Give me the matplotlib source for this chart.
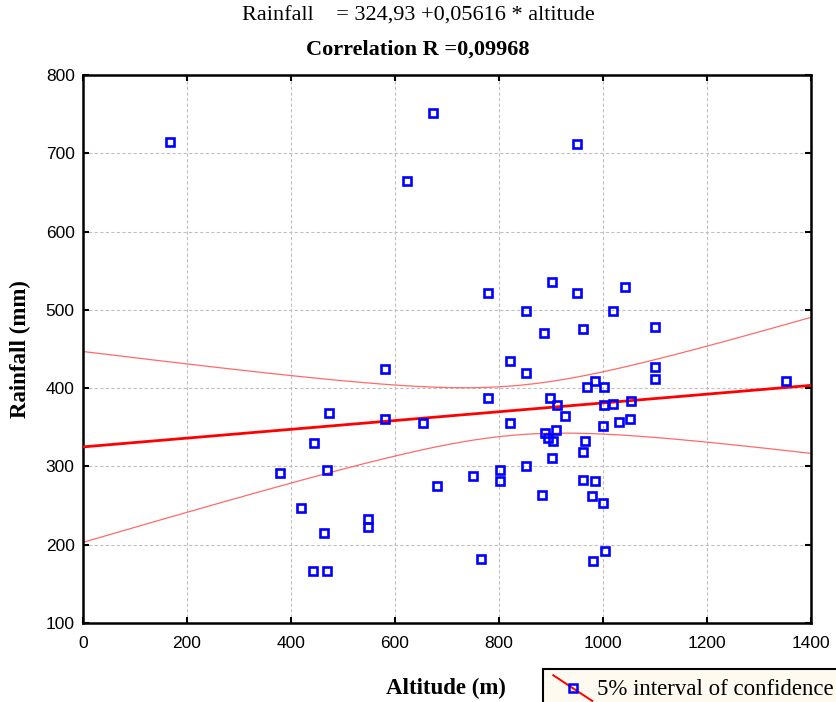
#!/usr/bin/env python3

import numpy as np
import matplotlib.pyplot as plt
from matplotlib.legend_handler import HandlerLine2D
from matplotlib.lines import Line2D

# altitude (m) and rainfall (mm) of the stations
altitude = np.array([
    168, 673, 623, 580, 474, 580, 653, 444, 470, 378, 680, 420, 549, 549, 464, 443, 470,
    950, 779, 852, 902, 950, 1042, 1019, 887, 961, 1100, 821, 852, 1100, 1100, 1352,
    779, 821, 750, 802, 802, 852, 882, 766, 898, 912, 927, 888, 909, 894, 903, 902,
    969, 985, 1001, 1001, 1020, 1054, 1000, 1030, 1051, 965, 961, 961, 984, 978, 1000,
    1004, 981,
])
rainfall = np.array([
    714, 752, 665, 424, 368, 360, 355, 330, 296, 291, 275, 247, 233, 222, 215, 166, 166,
    712, 521, 499, 535, 521, 529, 499, 470, 475, 478, 435, 419, 427, 412, 409,
    388, 355, 288, 296, 281, 301, 264, 182, 388, 378, 365, 343, 347, 336, 332, 311,
    401, 409, 401, 378, 380, 383, 352, 357, 360, 332, 319, 283, 281, 262, 253,
    192, 179,
])

intercept = 324.93
slope = 0.05616
corr_r = 0.09968


class DiagonalHandler(HandlerLine2D):
    # legend key drawn as a falling diagonal with the marker in the middle
    def create_artists(self, legend, orig_handle, xdescent, ydescent,
                       width, height, fontsize, trans):
        x0, y0 = -xdescent, -ydescent
        line = Line2D([x0, x0 + width], [y0 + height * 1.25, y0 - height * 0.35],
                      color="red", lw=1.4, transform=trans)
        mark = Line2D([x0 + width / 2], [y0 + height * 0.45], marker="s", ms=6,
                      mfc="none", mec="blue", mew=1.8, ls="none", transform=trans)
        return [line, mark]


def conf_band(x_grid, x, y, a, b):
    n = len(x)
    resid = y - (a + b * x)
    s = np.sqrt(np.sum(resid ** 2) / (n - 2))
    sxx = np.sum((x - x.mean()) ** 2)
    half = 1.998 * s * np.sqrt(1 / n + (x_grid - x.mean()) ** 2 / sxx)
    return half


def main():
    plt.rcParams["font.family"] = ["Liberation Sans", "DejaVu Sans"]

    fig = plt.figure(figsize=(8.36, 7.02), dpi=100)
    ax = fig.add_axes([83 / 836, 1 - 623 / 702, (811 - 83) / 836, (623 - 75) / 702])

    x_grid = np.linspace(0, 1400, 300)
    y_fit = intercept + slope * x_grid
    half = conf_band(x_grid, altitude, rainfall, intercept, slope)

    ax.plot(x_grid, y_fit + half, color="#ff6a6a", lw=0.9, zorder=2)
    ax.plot(x_grid, y_fit - half, color="#ff6a6a", lw=0.9, zorder=2)
    ax.plot(x_grid, y_fit, color="red", lw=2.0, zorder=3)
    pts, = ax.plot(altitude, rainfall, ls="none", marker="s", ms=6.2, mfc="none",
                   mec="blue", mew=1.9, zorder=4)

    ax.set_xlim(0, 1400)
    ax.set_ylim(100, 800)
    ax.set_xticks(np.arange(0, 1401, 200))
    ax.set_yticks(np.arange(100, 801, 100))
    ax.grid(True, color="#c0c0c0", ls=(0, (3, 2)), lw=0.8)
    ax.set_axisbelow(True)
    ax.tick_params(direction="in", length=4, width=1.5, labelsize=12.5,
                   top=True, right=True, pad=6)
    ax.tick_params(axis="x", pad=9)
    for sp in ax.spines.values():
        sp.set_linewidth(1.8)

    serif = ["Liberation Serif", "DejaVu Serif"]
    ax.set_xlabel("Altitude (m)", family=serif, fontweight="bold", fontsize=16.5)
    ax.xaxis.set_label_coords(363 / 728, -0.101)
    ax.set_ylabel("Rainfall (mm)", family=serif, fontweight="bold", fontsize=16.5)
    ax.yaxis.set_label_coords(-0.071, 0.5)

    fig.text(0.5, 1 - 16 / 702, "Rainfall    = 324,93 +0,05616 * altitude",
             family=serif, fontsize=16, ha="center", va="center")
    fig.text(0.5, 1 - 50 / 702, f"Correlation R ={corr_r:.5f}".replace(".", ","),
             family=serif, fontsize=16, fontweight="bold", ha="center", va="center")

    leg = fig.legend([pts], ["5% interval of confidence"],
                     handler_map={pts: DiagonalHandler()},
                     loc="upper left", bbox_to_anchor=(543 / 836, 1 - 669 / 702),
                     borderaxespad=0, frameon=True, fancybox=False,
                     prop={"family": serif, "size": 16.5}, handlelength=1.7,
                     borderpad=0.45, handletextpad=0.2)
    frame = leg.get_frame()
    frame.set_facecolor("#fffaf0")
    frame.set_edgecolor("black")
    frame.set_linewidth(1.5)
    frame.set_alpha(1)

    fig.savefig("out.png", dpi=100)


if __name__ == "__main__":
    main()
